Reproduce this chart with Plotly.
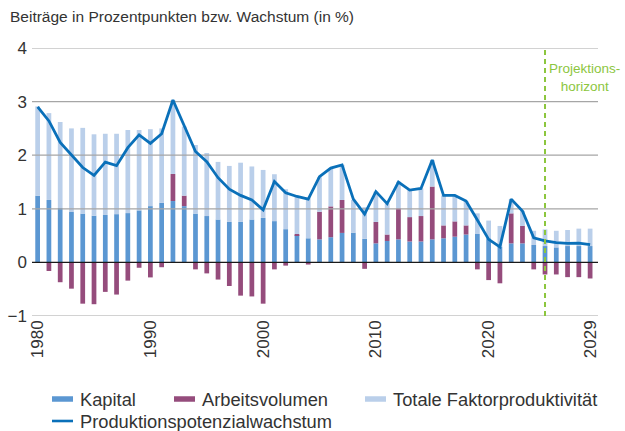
import plotly.graph_objects as go

years = list(range(1980, 2030))

kapital = [1.245, 1.165, 1.015, 0.94, 0.91, 0.87, 0.885, 0.90, 0.92, 0.97,
           1.05, 1.11, 1.145, 1.05, 0.91, 0.865, 0.80, 0.755, 0.755, 0.80,
           0.83, 0.77, 0.62, 0.51, 0.45, 0.43, 0.47, 0.55, 0.555, 0.44,
           0.355, 0.40, 0.43, 0.39, 0.39, 0.43, 0.45, 0.48, 0.52, 0.53,
           0.45, 0.29, 0.355, 0.355, 0.325, 0.305, 0.28, 0.305, 0.305, 0.305]

arbeitsvolumen = [0.0, -0.16, -0.37, -0.49, -0.77, -0.78, -0.55, -0.60, -0.34, -0.10,
                  -0.28, -0.09, 0.505, 0.195, -0.13, -0.205, -0.32, -0.44, -0.62, -0.635,
                  -0.77, -0.13, -0.06, 0.02, -0.04, 0.515, 0.575, 0.615, 0.0, -0.12,
                  0.40, 0.12, 0.58, 0.455, 0.475, 0.985, 0.24, 0.285, 0.17, -0.13,
                  -0.33, -0.39, 0.56, 0.325, -0.13, -0.225, -0.225, -0.275, -0.275, -0.30]

tfp = [1.665, 1.62, 1.605, 1.56, 1.60, 1.52, 1.515, 1.50, 1.55, 1.50,
       1.435, 1.39, 1.38, 1.29, 1.28, 1.175, 1.075, 1.045, 1.105, 0.99,
       0.895, 0.875, 0.745, 0.70, 0.76, 0.645, 0.715, 0.655, 0.61, 0.59,
       0.565, 0.58, 0.495, 0.505, 0.515, 0.495, 0.56, 0.485, 0.455, 0.385,
       0.33, 0.39, 0.265, 0.28, 0.265, 0.31, 0.31, 0.30, 0.325, 0.325]

potenzial = [2.90, 2.64, 2.24, 2.005, 1.77, 1.625, 1.87, 1.805, 2.14, 2.38,
             2.22, 2.40, 3.03, 2.55, 2.07, 1.88, 1.58, 1.365, 1.25, 1.165,
             0.98, 1.51, 1.30, 1.23, 1.18, 1.60, 1.76, 1.82, 1.18, 0.90,
             1.32, 1.095, 1.50, 1.35, 1.38, 1.91, 1.25, 1.25, 1.145, 0.79,
             0.43, 0.29, 1.18, 0.96, 0.46, 0.40, 0.37, 0.355, 0.36, 0.33]

series_names = ["Kapital", "Arbeitsvolumen", "Totale Faktorproduktivität",
                "Produktionspotenzialwachstum"]
x_ticks = [1980, 1990, 2000, 2010, 2020, 2029]
y_ticks = [-1, 0, 1, 2, 3, 4]
projection_year = 2025
title_text = "Beiträge in Prozentpunkten bzw. Wachstum (in %)"
projection_label = "Projektions-<br>horizont"

C_K = "#5b97d2"
C_A = "#954c7c"
C_T = "#bacfea"
C_L = "#0a70b9"
C_G = "#8cc63e"
X_RANGE = [1979.5, 2029.7]
FONT = "Liberation Sans, Arial, sans-serif"
TXT = "#333333"

W, H = 625, 431
ML, MR, MT, MB = 32, 27, 48, 115
PW, PH = W - ML - MR, H - MT - MB


def px(xp):
    return (xp - ML) / PW


def py(yp):
    return (H - MB - yp) / PH


fig = go.Figure()
bw = 0.42
for vals, nm, col in [(kapital, series_names[0], C_K),
                      (arbeitsvolumen, series_names[1], C_A),
                      (tfp, series_names[2], C_T)]:
    fig.add_trace(go.Bar(x=years, y=vals, name=nm, marker_color=col, width=bw,
                         showlegend=False, marker_line_width=0))

# gridlines drawn above bars (as in the reference)
for yv in y_ticks:
    fig.add_trace(go.Scatter(x=X_RANGE, y=[yv, yv], mode="lines",
                             line=dict(color="#1a1a1a" if yv == 0 else "#a6a6a6",
                                       width=1.4 if yv == 0 else 1.2),
                             showlegend=False, hoverinfo="skip"))

fig.add_trace(go.Scatter(x=years, y=potenzial, mode="lines", name=series_names[3],
                         line=dict(color=C_L, width=2.8), showlegend=False))

fig.add_shape(type="line", x0=projection_year, x1=projection_year, y0=-1, y1=4,
              xref="x", yref="y", line=dict(color=C_G, width=2, dash="5px,4px"))
fig.add_annotation(x=px(584), y=py(77), xref="paper", yref="paper", text=projection_label,
                   showarrow=False, xanchor="center", yanchor="middle", align="center",
                   font=dict(color=C_G, size=13.5, family=FONT))

# legend (flat swatches like the original)
legend_items = [
    (series_names[0], C_K, 52, 399, 5.5),
    (series_names[1], C_A, 174, 399, 5.5),
    (series_names[2], C_T, 365, 399, 5.5),
    (series_names[3], C_L, 52, 421, 2.6),
]
for nm, col, x0, yc, th in legend_items:
    fig.add_shape(type="rect", xref="paper", yref="paper",
                  x0=px(x0), x1=px(x0 + 21), y0=py(yc + th / 2), y1=py(yc - th / 2),
                  fillcolor=col, line=dict(width=0))
    fig.add_annotation(x=px(x0 + 26), y=py(yc), xref="paper", yref="paper", text=nm,
                       showarrow=False, xanchor="left", yanchor="middle",
                       font=dict(size=18.3, color=TXT, family=FONT))

fig.update_layout(
    width=W, height=H,
    margin=dict(l=ML, r=MR, t=MT, b=MB),
    paper_bgcolor="white", plot_bgcolor="white",
    barmode="relative", showlegend=False,
    font=dict(family=FONT, color=TXT, size=17),
    title=dict(text=title_text, x=10/625, xref="container", xanchor="left",
               y=1-17/431, yanchor="middle", font=dict(size=15.5, color=TXT)),
    xaxis=dict(range=X_RANGE, tickvals=x_ticks, tickangle=-90, showgrid=False,
               zeroline=False, showline=False, ticks="", tickfont=dict(size=17),
               automargin=False, fixedrange=True),
    yaxis=dict(range=[-1, 4], tickvals=y_ticks, showgrid=False, zeroline=False,
               showline=False, ticks="", tickfont=dict(size=17),
               automargin=False, fixedrange=True, ticklabelstandoff=4),
)

fig.write_html("out.html", config={"displayModeBar": False},
               post_script="document.body.style.margin='0';"
                           "document.body.style.overflow='hidden';")
